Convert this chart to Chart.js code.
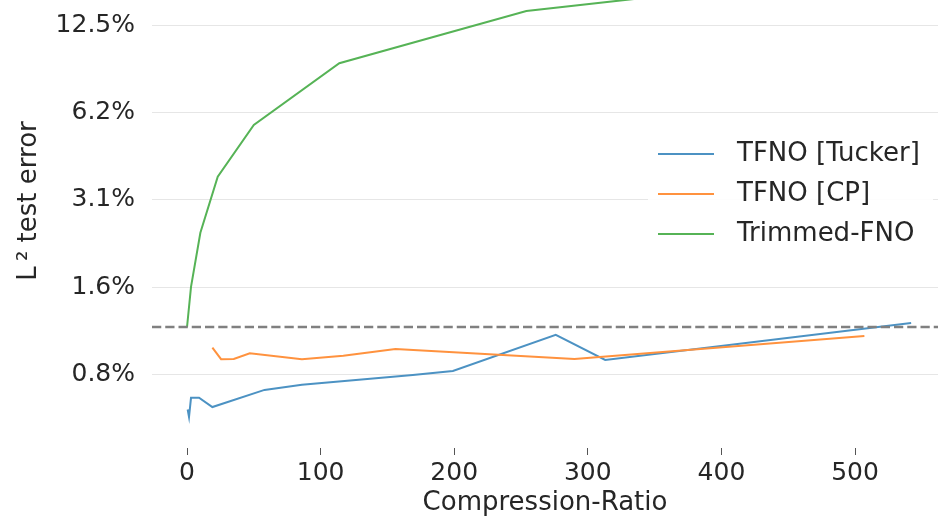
<!DOCTYPE html>
<html>
<head>
<meta charset="utf-8">
<script src="https://cdn.jsdelivr.net/npm/chart.js@4.4.0/dist/chart.umd.min.js"></script>
<style>
  html, body { margin: 0; padding: 0; background: #fff; overflow: hidden; }
  /* the original axes start above the visible crop, so the canvas is pulled up */
  #frame { width: 938px; height: 519px; overflow: hidden; position: relative; }
  #wrap { width: 938px; height: 565px; position: absolute; left: 0; top: -46px; }
</style>
</head>
<body>
<div id="frame"><div id="wrap"><canvas id="errorChart"></canvas></div></div>
<script>
var tuckerRatio = [0.5, 1.5, 3, 9, 19, 58, 86, 169, 199, 276, 313, 542];
var tuckerError = [0.594, 0.56, 0.652, 0.652, 0.606, 0.694, 0.723, 0.781, 0.806, 1.073, 0.88, 1.18];

var cpRatio = [19, 25.5, 35, 47, 86, 117, 156, 290, 507];
var cpError = [0.97, 0.885, 0.887, 0.928, 0.885, 0.91, 0.96, 0.887, 1.064];

var trimmedRatio = [0, 3, 10, 23, 50, 114, 254, 400];
var trimmedError = [1.14, 1.57, 2.41, 3.76, 5.66, 9.23, 13.97, 16.6];

var baselineError = 1.143;

var xMin = -26.2;
var xMax = 562.1;
var xTickValues = [0, 100, 200, 300, 400, 500];

var yMin = 0.438;
var yMax = 21.94;
var yTickValues = [0.78125, 1.5625, 3.125, 6.25, 12.5];
var yTickLabels = ['0.8%', '1.6%', '3.1%', '6.2%', '12.5%'];

var seriesNames = ['TFNO [Tucker]', 'TFNO [CP]', 'Trimmed-FNO'];
var seriesColors = ['#4c92c3', '#ff923e', '#56b356'];

function toPoints(xs, ys) {
  return xs.map(function(x, i) {
    return { x: x, y: ys[i] };
  });
}

// matplotlib-style legend box sitting inside the plot
var boxLegend = {
  id: 'boxLegend',
  afterDatasetsDraw: function(chart) {
    var ctx = chart.ctx;
    var area = chart.chartArea;
    var left = area.right - 290;
    var top = area.top + 179;
    ctx.save();
    ctx.fillStyle = 'rgba(255,255,255,0.9)';
    ctx.fillRect(left, top, 285, 123);
    ctx.font = '26px "DejaVu Sans"';
    ctx.textBaseline = 'middle';
    ctx.textAlign = 'left';
    for (var i = 0; i < seriesNames.length; i++) {
      var y = top + 21 + i * 40;
      ctx.strokeStyle = seriesColors[i];
      ctx.lineWidth = 2;
      ctx.beginPath();
      ctx.moveTo(left + 10, y);
      ctx.lineTo(left + 66, y);
      ctx.stroke();
      ctx.fillStyle = '#262626';
      ctx.fillText(seriesNames[i], left + 89, y);
    }
    ctx.restore();
  }
};

var ctx = document.getElementById('errorChart').getContext('2d');

var chart = new Chart(ctx, {
  type: 'line',
  data: {
    datasets: [
      {
        label: 'baseline',
        data: [{ x: xMin, y: baselineError }, { x: xMax, y: baselineError }],
        borderColor: '#808080',
        borderWidth: 2.5,
        borderDash: [9.25, 4],
        order: -1
      },
      {
        label: seriesNames[0],
        data: toPoints(tuckerRatio, tuckerError),
        borderColor: seriesColors[0],
        order: 2
      },
      {
        label: seriesNames[1],
        data: toPoints(cpRatio, cpError),
        borderColor: seriesColors[1],
        order: 1
      },
      {
        label: seriesNames[2],
        data: toPoints(trimmedRatio, trimmedError),
        borderColor: seriesColors[2],
        order: 0
      }
    ]
  },
  options: {
    responsive: true,
    maintainAspectRatio: false,
    animation: false,
    layout: { padding: 0 },
    elements: {
      point: { radius: 0, hoverRadius: 0 },
      line: { borderWidth: 2, tension: 0, fill: false }
    },
    plugins: {
      legend: { display: false },
      tooltip: { enabled: false }
    },
    scales: {
      x: {
        type: 'linear',
        min: xMin,
        max: xMax,
        afterBuildTicks: function(scale) {
          scale.ticks = xTickValues.map(function(v) { return { value: v }; });
        },
        afterFit: function(scale) {
          scale.height = 71;
          scale.paddingLeft = 0;
          scale.paddingRight = 0;
        },
        border: { display: false },
        grid: {
          drawOnChartArea: false,
          drawTicks: true,
          tickLength: 7,
          color: '#555555',
          lineWidth: 1
        },
        ticks: {
          autoSkip: false,
          maxRotation: 0,
          padding: 3,
          color: '#262626',
          font: { family: 'DejaVu Sans', size: 25 }
        },
        title: {
          display: true,
          text: 'Compression-Ratio',
          color: '#262626',
          font: { family: 'DejaVu Sans', size: 26 },
          padding: { top: 0, bottom: 0 }
        }
      },
      y: {
        type: 'logarithmic',
        min: yMin,
        max: yMax,
        afterBuildTicks: function(scale) {
          scale.ticks = yTickValues.map(function(v) { return { value: v }; });
        },
        afterFit: function(scale) {
          scale.width = 152;
          scale.paddingTop = 0;
          scale.paddingBottom = 0;
        },
        border: { display: false },
        grid: {
          drawTicks: false,
          color: '#e6e6e6',
          lineWidth: 1
        },
        ticks: {
          padding: 17,
          color: '#262626',
          font: { family: 'DejaVu Sans', size: 25 },
          callback: function(value) {
            return yTickLabels[yTickValues.indexOf(value)];
          }
        },
        title: {
          display: true,
          text: 'L\u2009\u00B2 test error',
          color: '#262626',
          font: { family: 'DejaVu Sans', size: 26 },
          padding: { top: 14, bottom: 0 }
        }
      }
    }
  },
  plugins: [boxLegend]
});
</script>
</body>
</html>
